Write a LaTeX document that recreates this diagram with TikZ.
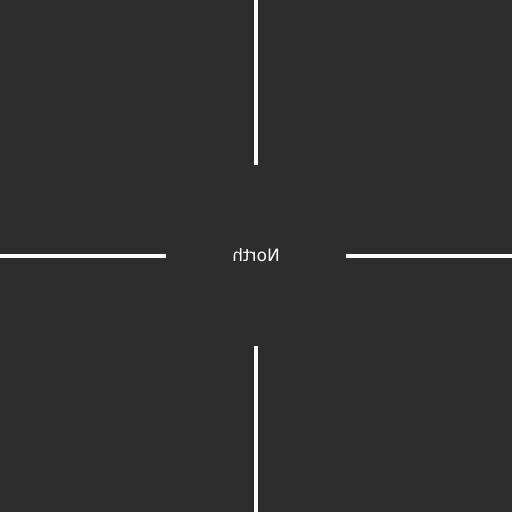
\documentclass[tikz,border=0pt]{standalone}
\usepackage{fontspec}
\newfontfamily\labelfont{DejaVu Sans}
\definecolor{bg}{HTML}{2D2D2D}
\tikzset{hair/.style={white,line width=4pt}}
\begin{document}
\begin{tikzpicture}[x=1pt,y=1pt]
\fill[bg] (0,0) rectangle (512,512);
\useasboundingbox (0,0) rectangle (512,512);
\node[text=white,font=\labelfont\fontsize{17}{20}\selectfont,inner sep=0pt] (lbl) at (256,257) {\scalebox{-1}[1]{North}};
\coordinate (t0) at (256,512); \coordinate (t1) at (256,347);
\coordinate (b0) at (256,0); \coordinate (b1) at (256,166);
\coordinate (l0) at (0,256); \coordinate (l1) at (166,256);
\coordinate (r0) at (512,256); \coordinate (r1) at (346,256);
\draw[hair] (t0) -- (t1);
\draw[hair] (b0) -- (b1);
\draw[hair] (l0) -- (l1);
\draw[hair] (r0) -- (r1);
\end{tikzpicture}
\end{document}
